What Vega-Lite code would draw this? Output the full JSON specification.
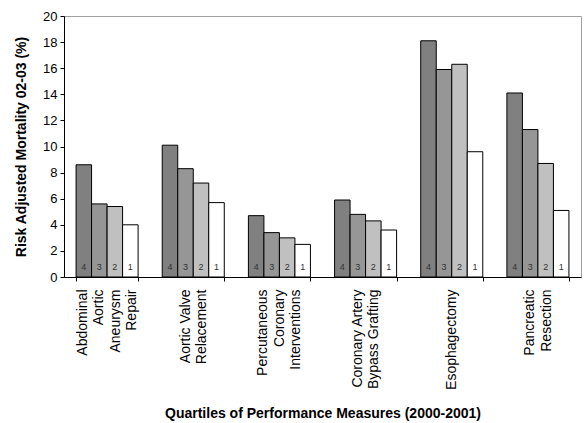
{
  "$schema": "https://vega.github.io/schema/vega-lite/v6.json",
  "width": 517,
  "height": 261,
  "autosize": {"type": "none"},
  "padding": {"left": 64, "top": 16, "right": 3, "bottom": 146},
  "config": {
    "font": "Liberation Sans",
    "view": {"stroke": "#a0a0a0", "strokeWidth": 1},
    "axisY": {
      "titleFontSize": 14,
      "titleFontWeight": "bold",
      "titleColor": "#000",
      "titlePadding": 14,
      "labelFontSize": 13,
      "labelColor": "#000",
      "labelPadding": 3,
      "tickSize": 4,
      "tickColor": "#000",
      "domainColor": "#000",
      "grid": false
    }
  },
  "data": {
    "values": [
      {"procedure": "Abdominal Aortic Aneurysm Repair", "quartile": "4", "mortality": 8.6},
      {"procedure": "Abdominal Aortic Aneurysm Repair", "quartile": "3", "mortality": 5.6},
      {"procedure": "Abdominal Aortic Aneurysm Repair", "quartile": "2", "mortality": 5.4},
      {"procedure": "Abdominal Aortic Aneurysm Repair", "quartile": "1", "mortality": 4.0},
      {"procedure": "Aortic Valve Relacement", "quartile": "4", "mortality": 10.1},
      {"procedure": "Aortic Valve Relacement", "quartile": "3", "mortality": 8.3},
      {"procedure": "Aortic Valve Relacement", "quartile": "2", "mortality": 7.2},
      {"procedure": "Aortic Valve Relacement", "quartile": "1", "mortality": 5.7},
      {"procedure": "Percutaneous Coronary Interventions", "quartile": "4", "mortality": 4.7},
      {"procedure": "Percutaneous Coronary Interventions", "quartile": "3", "mortality": 3.4},
      {"procedure": "Percutaneous Coronary Interventions", "quartile": "2", "mortality": 3.0},
      {"procedure": "Percutaneous Coronary Interventions", "quartile": "1", "mortality": 2.5},
      {"procedure": "Coronary Artery Bypass Grafting", "quartile": "4", "mortality": 5.9},
      {"procedure": "Coronary Artery Bypass Grafting", "quartile": "3", "mortality": 4.8},
      {"procedure": "Coronary Artery Bypass Grafting", "quartile": "2", "mortality": 4.3},
      {"procedure": "Coronary Artery Bypass Grafting", "quartile": "1", "mortality": 3.6},
      {"procedure": "Esophagectomy", "quartile": "4", "mortality": 18.1},
      {"procedure": "Esophagectomy", "quartile": "3", "mortality": 15.9},
      {"procedure": "Esophagectomy", "quartile": "2", "mortality": 16.3},
      {"procedure": "Esophagectomy", "quartile": "1", "mortality": 9.6},
      {"procedure": "Pancreatic Resection", "quartile": "4", "mortality": 14.1},
      {"procedure": "Pancreatic Resection", "quartile": "3", "mortality": 11.3},
      {"procedure": "Pancreatic Resection", "quartile": "2", "mortality": 8.7},
      {"procedure": "Pancreatic Resection", "quartile": "1", "mortality": 5.1}
    ]
  },
  "encoding": {
    "x": {
      "field": "procedure",
      "type": "nominal",
      "sort": null,
      "scale": {"paddingInner": 0.28, "paddingOuter": 0.14},
      "axis": {
        "title": "Quartiles of Performance Measures (2000-2001)",
        "titleFontSize": 14,
        "titleFontWeight": "bold",
        "titleColor": "#000",
        "titlePadding": 17,
        "labelAngle": -90,
        "labelAlign": "right",
        "labelBaseline": "middle",
        "labelFontSize": 14,
        "labelColor": "#000",
        "labelLineHeight": 16.5,
        "labelPadding": 8,
        "labelLimit": 0,
        "labelExpr": "{'Abdominal Aortic Aneurysm Repair': ['Abdominal', 'Aortic', 'Aneurysm', 'Repair'], 'Aortic Valve Relacement': ['Aortic Valve', 'Relacement'], 'Percutaneous Coronary Interventions': ['Percutaneous', 'Coronary', 'Interventions'], 'Coronary Artery Bypass Grafting': ['Coronary Artery', 'Bypass Grafting'], 'Esophagectomy': ['Esophagectomy'], 'Pancreatic Resection': ['Pancreatic', 'Resection']}[datum.value]",
        "labelOffset": {"expr": "-8.25 * ({'Abdominal Aortic Aneurysm Repair': 3, 'Aortic Valve Relacement': 1, 'Percutaneous Coronary Interventions': 2, 'Coronary Artery Bypass Grafting': 1, 'Esophagectomy': 0, 'Pancreatic Resection': 1}[datum.value])"},
        "tickBand": "extent",
        "tickSize": 4,
        "tickColor": "#000",
        "domainColor": "#000",
        "grid": false
      }
    },
    "xOffset": {"field": "quartile", "type": "nominal", "sort": ["4", "3", "2", "1"]},
    "y": {
      "field": "mortality",
      "type": "quantitative",
      "scale": {"domain": [0, 20], "nice": false},
      "axis": {"title": "Risk Adjusted Mortality 02-03 (%)", "values": [0, 2, 4, 6, 8, 10, 12, 14, 16, 18, 20]}
    }
  },
  "layer": [
    {
      "mark": {"type": "bar", "stroke": "#000", "strokeWidth": 1},
      "encoding": {
        "fill": {
          "field": "quartile",
          "type": "nominal",
          "scale": {"domain": ["4", "3", "2", "1"], "range": ["#808080", "#969696", "#c0c0c0", "#ffffff"]},
          "legend": null
        }
      }
    },
    {
      "mark": {"type": "text", "fontSize": 9, "color": "#333", "baseline": "middle", "dy": -10},
      "encoding": {
        "y": {"datum": 0, "type": "quantitative", "axis": {"title": "Risk Adjusted Mortality 02-03 (%)", "values": [0, 2, 4, 6, 8, 10, 12, 14, 16, 18, 20]}},
        "text": {"field": "quartile"}
      }
    }
  ]
}
